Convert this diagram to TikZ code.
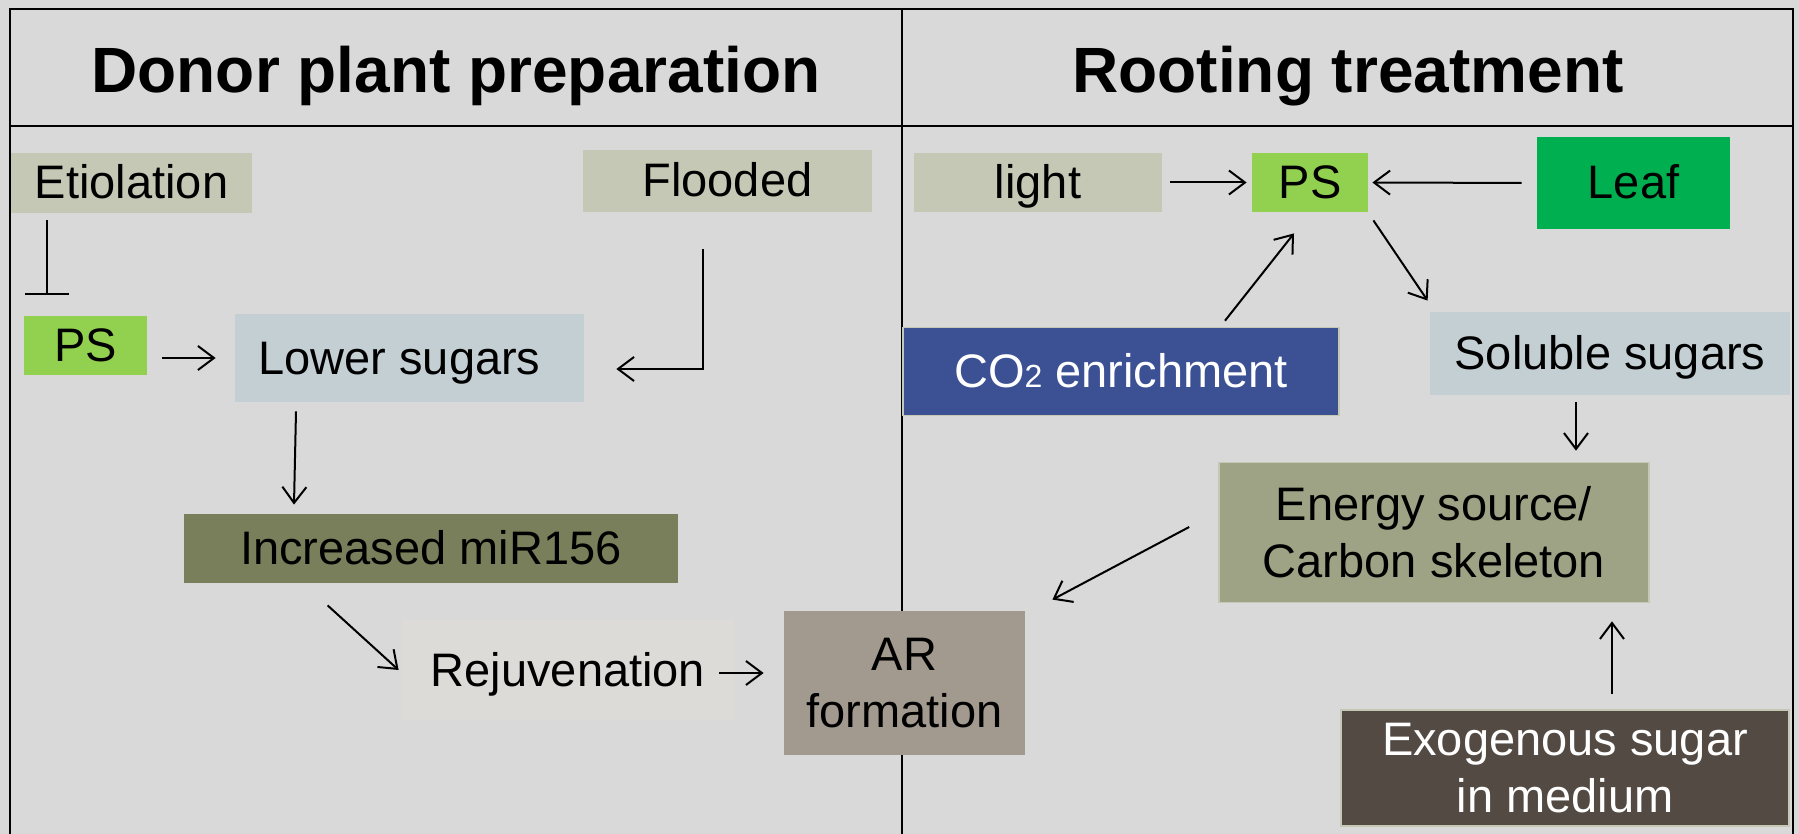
\documentclass[tikz,border=0pt]{standalone}
\usepackage{fontspec}
\setmainfont{Liberation Sans}
\usetikzlibrary{arrows.meta}

\definecolor{bgGrey}{HTML}{D9D9D9}
\definecolor{sageGrey}{HTML}{C5C8B5}
\definecolor{psGreen}{HTML}{92D050}
\definecolor{leafGreen}{HTML}{00B050}
\definecolor{sugarBlue}{HTML}{C4CFD4}
\definecolor{mirOlive}{HTML}{787F5A}
\definecolor{rejuvGrey}{HTML}{DDDBD7}
\definecolor{arTaupe}{HTML}{A29A8E}
\definecolor{energyOlive}{HTML}{9DA384}
\definecolor{co2Blue}{HTML}{3C5094}
\definecolor{exoBrown}{HTML}{524A43}

\tikzstyle{factor} = [rectangle, inner sep=0pt, text centered, align=center, font=\fontsize{23.5}{28.5}\selectfont]
\tikzstyle{oneline} = [text height=21pt, text depth=5pt]
\tikzstyle{heading} = [font=\fontsize{32}{38}\selectfont\bfseries]
\tikzstyle{arrow} = [line width=1pt, -{Straight Barb[length=8pt,width=12pt,line width=1pt]}]
\tikzstyle{inhibit} = [line width=1pt, -{Bar[width=22pt,line width=1pt]}]

\begin{document}
\begin{tikzpicture}[x=0.5pt, y=-0.5pt]

    \fill [bgGrey] (0,0) rectangle (1799,834);
    \useasboundingbox (0,0) rectangle (1799,834);

    % frame
    \draw [line width=1.1pt] (10,834) -- (10,9) -- (1793,9) -- (1793,834);
    \draw [line width=1.1pt] (10,126) -- (1793,126);
    \draw [line width=1.1pt] (902,9) -- (902,834);

    \node (donorTitle) [heading] at (456,76) {Donor plant preparation};
    \node (rootTitle) [heading] at (1348,76) {Rooting treatment};

    % donor plant side
    \node (etiol) [factor, oneline, fill=sageGrey, minimum width=120.5pt, minimum height=30pt] at (131.5,183) {Etiolation};
    \node (psL) [factor, oneline, fill=psGreen, minimum width=61.5pt, minimum height=29.5pt] at (85.5,345.5) {PS};
    \node (lower) [factor, oneline, fill=sugarBlue, minimum width=174.5pt, minimum height=44pt] at (409.5,358) {Lower sugars\hspace{10pt}};
    \node (flooded) [factor, oneline, fill=sageGrey, minimum width=144.5pt, minimum height=31pt] at (727.5,181) {Flooded};
    \node (incr) [factor, oneline, fill=mirOlive, minimum width=247pt, minimum height=34.5pt] at (431,548.5) {Increased miR156};
    \node (rejuv) [factor, oneline, fill=rejuvGrey, minimum width=166pt, minimum height=50pt] at (568,670) {Rejuvenation};
    \node (ar) [factor, fill=arTaupe, minimum width=120.5pt, minimum height=72pt] at (904.5,683) {AR\\formation};

    % rooting side
    \node (light) [factor, oneline, fill=sageGrey, minimum width=124pt, minimum height=29.5pt] at (1038,182.5) {light};
    \node (psR) [factor, oneline, fill=psGreen, minimum width=58pt, minimum height=29.5pt] at (1310,182.5) {PS};
    \node (leaf) [factor, oneline, fill=leafGreen, minimum width=96.5pt, minimum height=46pt] at (1633.5,183) {Leaf};
    \node (soluble) [factor, oneline, fill=sugarBlue, minimum width=180pt, minimum height=41.5pt] at (1610,353.5) {Soluble sugars};
    \node (co2) [factor, oneline, fill=co2Blue, draw=sageGrey, line width=0.8pt, text=white, minimum width=218pt, minimum height=44pt] at (1121,371.5) {CO{\fontsize{16}{16}\selectfont 2} enrichment};
    \node (energy) [factor, fill=energyOlive, draw=sageGrey, line width=0.8pt, minimum width=215pt, minimum height=70pt] at (1434,532.5) {Energy source/\\Carbon skeleton};
    \node (exo) [factor, fill=exoBrown, draw=sageGrey, line width=0.8pt, text=white, minimum width=224pt, minimum height=58pt] at (1565,768) {Exogenous sugar\\in medium};

    % connectors, donor plant side
    \draw [inhibit, shorten <=3.5pt, shorten >=10.5pt] ([xshift=11.5pt]psL.north west |- etiol.south) -- ([xshift=11.5pt]psL.north west);
    \draw [arrow, shorten <=7.5pt, shorten >=9.5pt] (psL.east |- lower.west) -- (lower.west);
    \draw [arrow] ([xshift=-12.5pt,yshift=-18.5pt]flooded.south) |- ([xshift=16pt,yshift=-5.5pt]lower.east);
    \draw [arrow] ([xshift=-56.75pt,yshift=-4.5pt]lower.south) -- ([xshift=-68.5pt,yshift=4.5pt]incr.north);
    \draw [arrow] ([xshift=72pt,yshift=-11pt]incr.south west) -- ([xshift=-1.5pt]rejuv.west);
    \draw [arrow] ([xshift=-7.5pt,yshift=-1.5pt]rejuv.east) -- ([xshift=-10pt,yshift=5pt]ar.west);

    % connectors, rooting side
    \draw [arrow, shorten <=4pt, shorten >=2.5pt] (light.east) -- (psR.west);
    \draw [arrow, shorten <=7.5pt, shorten >=2pt] (leaf.west) -- (psR.east);
    \draw [arrow] ([xshift=2.5pt,yshift=-4pt]psR.south east) -- ([xshift=-1pt,yshift=5.5pt]soluble.north west);
    \draw [arrow] ([xshift=52pt,yshift=3pt]co2.north) -- ([xshift=-8pt,yshift=-10.5pt]psR.south);
    \draw [arrow] ([xshift=-17pt,yshift=-3.5pt]soluble.south) -- ([xshift=71pt,yshift=5.5pt]energy.north);
    \draw [arrow] ([xshift=-14.5pt,yshift=2.75pt]energy.west) -- ([xshift=13.5pt,yshift=5.5pt]ar.north east);
    \draw [arrow] ([xshift=23.5pt,yshift=7.5pt]exo.north) -- ([xshift=89pt,yshift=-9pt]energy.south);

\end{tikzpicture}
\end{document}
